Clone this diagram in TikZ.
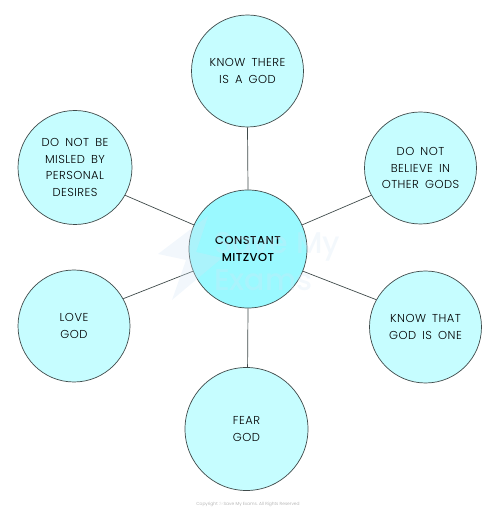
\documentclass[tikz,border=0pt]{standalone}
\usepackage{fontspec}
\setmainfont{Poppins Light}
\newfontfamily\hubfont[LetterSpace=4]{Poppins Medium}
\newfontfamily\dutyfont[LetterSpace=4,WordSpace=1.7]{Poppins Light}
\newfontfamily\markfont{Poppins Medium}
\usepackage{xcolor}
\usetikzlibrary{backgrounds}
\definecolor{cHub}{HTML}{9AF9FF}
\definecolor{cDuty}{HTML}{C6FDFF}
\definecolor{cEdge}{HTML}{3F4A4A}
\definecolor{cMark}{HTML}{D5E6F5}
\tikzset{
  dutybox/.style={circle,draw=cEdge,fill=cDuty,line width=0.7pt,align=center,
                  inner sep=0pt,font=\dutyfont\fontsize{11.5}{16.5}\selectfont},
  hubbox/.style ={dutybox,fill=cHub,font=\hubfont\fontsize{11.5}{17.5}\selectfont},
  sar/.style    ={cEdge,line width=0.7pt},
  markbox/.style={text=cMark,opacity=0.28,font=\markfont\fontsize{30}{30}\selectfont,anchor=west,inner sep=0pt},
}
\begin{document}
\begin{tikzpicture}[x=1pt,y=1pt]
    \useasboundingbox (0,0) rectangle (497,512);
    \node[hubbox,minimum size=118pt] (hub) at (248,263) {CONSTANT\\MITZVOT};
    \node[dutybox,minimum size=112pt] (god) at (247.5,441) {KNOW THERE\\IS A GOD};
    \node[dutybox,minimum size=112pt] (others) at (420.5,344) {DO NOT\\BELIEVE IN\\OTHER GODS};
    \node[dutybox,minimum size=112pt] (one) at (425.5,185) {KNOW THAT\\GOD IS ONE};
    \node[dutybox,minimum size=123pt] (fear) at (246.5,83) {FEAR\\GOD};
    \node[dutybox,minimum size=112pt] (love) at (74,186) {LOVE\\GOD};
    \node[dutybox,minimum size=114pt] (desires) at (75,344.5) {DO NOT BE\\MISLED BY\\PERSONAL\\DESIRES};
    \begin{scope}[on background layer]
      \draw[sar] (hub.90)--(god.270);
      \draw[sar] (hub.24)--(others.209);
      \draw[sar] (hub.-22)--(one.151);
      \draw[sar] (hub.270)--(fear.89);
      \draw[sar] (hub.202)--(love.29);
      \draw[sar] (hub.156)--(desires.-29);
    \end{scope}
    % faint mark over the hub
    \fill[cMark,opacity=0.3] (208,296)--(158,258)--(186,252)--(172,212)--(222,254)--(196,260)--cycle;
    \node[markbox] (markone) at (214,265) {Save My};
    \node[markbox] (marktwo) at (214,232) {Exams};
    \node[text=gray!70,font=\fontsize{4.4}{5}\selectfont,inner sep=0pt] (copyright) at (248,8) {Copyright © Save My Exams. All Rights Reserved};
\end{tikzpicture}
\end{document}
